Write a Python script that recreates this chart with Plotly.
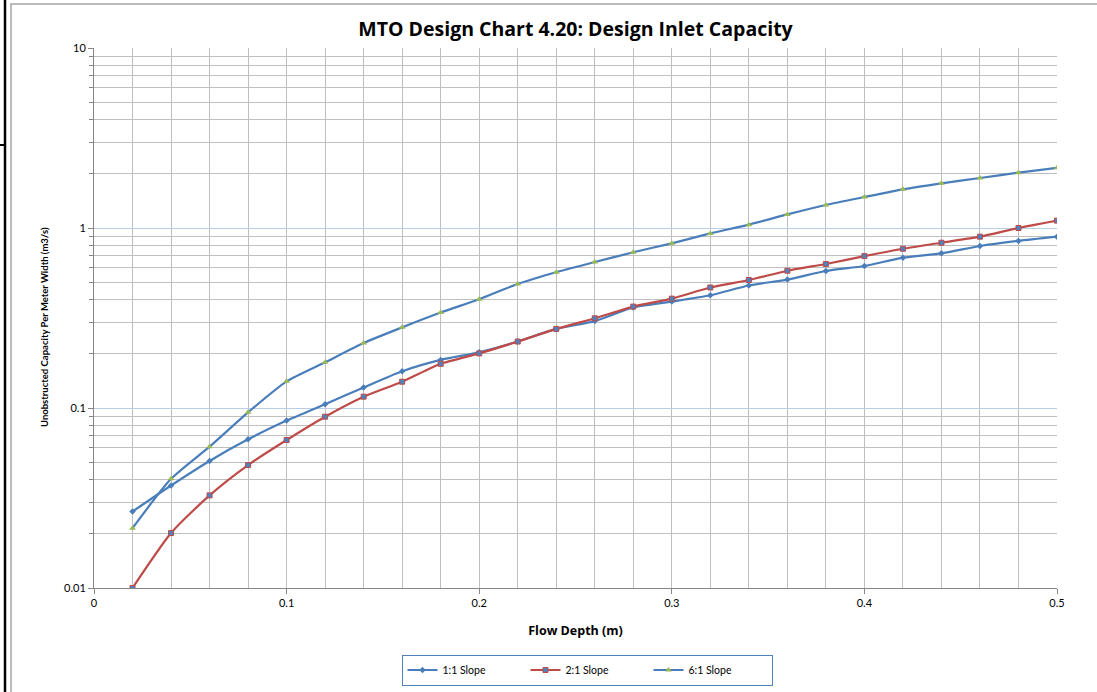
import plotly.graph_objects as go

depth = [0.02, 0.04, 0.06, 0.08, 0.10, 0.12, 0.14, 0.16, 0.18, 0.20, 0.22, 0.24, 0.26,
         0.28, 0.30, 0.32, 0.34, 0.36, 0.38, 0.40, 0.42, 0.44, 0.46, 0.48, 0.50]
slope_1_1 = [0.0266, 0.0371, 0.0508, 0.067, 0.0851, 0.105, 0.130, 0.160, 0.185, 0.204,
             0.234, 0.275, 0.304, 0.362, 0.39, 0.423, 0.479, 0.517, 0.577, 0.615,
             0.684, 0.723, 0.794, 0.848, 0.895]
slope_2_1 = [0.0100, 0.0202, 0.0327, 0.0482, 0.0664, 0.0895, 0.1156, 0.140, 0.176, 0.201,
             0.234, 0.275, 0.315, 0.366, 0.405, 0.467, 0.514, 0.579, 0.631, 0.698,
             0.767, 0.828, 0.895, 1.0, 1.099]
slope_6_1 = [0.0215, 0.0404, 0.061, 0.0946, 0.1406, 0.1795, 0.2296, 0.2805, 0.339, 0.402,
             0.489, 0.568, 0.647, 0.733, 0.822, 0.933, 1.044, 1.19, 1.342, 1.486,
             1.64, 1.77, 1.896, 2.03, 2.16]
series_names = ["1:1 Slope", "2:1 Slope", "6:1 Slope"]
y_tickvals = [0.01, 0.1, 1, 10]
y_ticktext = ["0.01", "0.1", "1", "10"]
x_tickvals = [0, 0.1, 0.2, 0.3, 0.4, 0.5]
x_ticktext = ["0", "0.1", "0.2", "0.3", "0.4", "0.5"]
y_title = "Unobstructed Capacity Per Meter Width (m3/s)"

FONT = "Lato"
TFONT = "Open Sans"
BLUE = "#4a7ebb"
RED = "#be4b48"
GREEN = "#98b954"
GRID = "#bfbfbf"

fig = go.Figure()
fig.add_trace(go.Scatter(
    x=depth, y=slope_1_1, name=series_names[0], mode="lines+markers",
    line=dict(color=BLUE, width=2.2, shape="spline", smoothing=0.6),
    marker=dict(symbol="diamond", size=5, color=BLUE)))
fig.add_trace(go.Scatter(
    x=depth, y=slope_2_1, name=series_names[1], mode="lines+markers",
    line=dict(color=RED, width=2.2, shape="spline", smoothing=0.6),
    marker=dict(symbol="square", size=5, color="#4f81bd", line=dict(color=RED, width=1))))
fig.add_trace(go.Scatter(
    x=depth, y=slope_6_1, name=series_names[2], mode="lines+markers",
    line=dict(color=BLUE, width=2.2, shape="spline", smoothing=0.6),
    marker=dict(symbol="triangle-up", size=6, color=GREEN)))

# Outer frame and spreadsheet edge lines (pixel -> paper conversion)
L, R, T, B = 94, 1057, 48, 588
W, H = R - L, B - T
def px(x):
    return (x - L) / W
def py(y):
    return (B - y) / H

shapes = [
    dict(type="rect", xref="paper", yref="paper", x0=px(11), x1=px(1100), y0=py(4), y1=py(700),
         line=dict(color="#a6a6a6", width=1.5), fillcolor="rgba(0,0,0,0)", layer="below"),
    dict(type="line", xref="paper", yref="paper", x0=px(5), x1=px(5), y0=py(0), y1=py(692),
         line=dict(color="black", width=2.5)),
    dict(type="line", xref="paper", yref="paper", x0=px(0), x1=px(5), y0=py(145), y1=py(145),
         line=dict(color="black", width=2)),
]

fig.add_annotation(text="<b>" + y_title + "</b>", textangle=-90,
                   xref="paper", yref="paper", x=px(45), y=py(327),
                   xanchor="center", yanchor="middle", showarrow=False,
                   font=dict(family=FONT, size=9.5, color="#000000"))

fig.update_layout(
    width=1097, height=692,
    margin=dict(l=L, r=1097 - R, t=T, b=692 - B),
    paper_bgcolor="white", plot_bgcolor="white",
    font=dict(family=FONT, color="#000000", size=11),
    title=dict(text="<b>MTO Design Chart 4.20: Design Inlet Capacity</b>",
               x=(L + R) / 2 / 1097, xanchor="center", y=1 - 29 / 692, yanchor="middle",
               font=dict(family=TFONT, size=19.5, color="#000000")),
    xaxis=dict(range=[0, 0.5], tickvals=x_tickvals, ticktext=x_ticktext,
               showgrid=True, gridcolor=GRID, gridwidth=1,
               minor=dict(dtick=0.02, showgrid=True, gridcolor=GRID, gridwidth=1),
               showline=True, linecolor="#868686", linewidth=1,
               ticks="outside", ticklen=5, tickcolor="#868686",
               tickfont=dict(family=FONT, size=11),
               zeroline=False,
               title=dict(text="<b>Flow Depth (m)</b>", font=dict(family=TFONT, size=12.5), standoff=18)),
    yaxis=dict(type="log", range=[-2, 1], tickvals=y_tickvals, ticktext=y_ticktext,
               showgrid=True, gridcolor="#b9cde5", gridwidth=1,
               minor=dict(dtick="D1", showgrid=True, gridcolor=GRID, gridwidth=1,
                          ticks="outside", ticklen=4, tickcolor="#868686"),
               showline=True, linecolor="#868686", linewidth=1,
               ticks="outside", ticklen=5, tickcolor="#868686",
               tickfont=dict(family=FONT, size=11)),
    legend=dict(orientation="h", x=587 / 1097, xref="container", xanchor="center",
                y=(692 - 670) / 692, yref="container", yanchor="middle",
                bordercolor="#4f81bd", borderwidth=1, bgcolor="white",
                font=dict(family=FONT, size=10.5), itemwidth=30,
                entrywidthmode="pixels", entrywidth=78),
    shapes=shapes,
)

fig.write_html("out.html", config={"displayModeBar": False},
               post_script="document.body.style.margin='0px';")
